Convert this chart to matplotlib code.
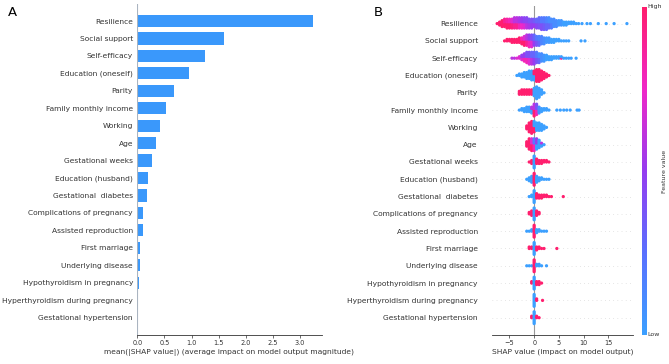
import matplotlib.pyplot as plt
import numpy as np
from matplotlib.colors import LinearSegmentedColormap

features = ['Resilience', 'Social support', 'Self-efficacy', 'Education (oneself)',
            'Parity', 'Family monthly income', 'Working', 'Age', 'Gestational weeks',
            'Education (husband)', 'Gestational  diabetes', 'Complications of pregnancy',
            'Assisted reproduction', 'First marriage', 'Underlying disease',
            'Hypothyroidism in pregnancy', 'Hyperthyroidism during pregnancy',
            'Gestational hypertension']

mean_abs_shap = [3.24, 1.59, 1.24, 0.96, 0.68, 0.535, 0.425, 0.35, 0.27, 0.20,
                 0.18, 0.11, 0.10, 0.055, 0.045, 0.025, 0.006, 0.004]

bar_ticks = [0.0, 0.5, 1.0, 1.5, 2.0, 2.5, 3.0]
swarm_ticks = [-5, 0, 5, 10, 15]

# beeswarm rows: (shap value, dots stacked there, feature value 0..1)
resilience = [(-7.5, 1, 1.0), (-7, 3, 1.0), (-6.5, 5, 1.0), (-6, 6, [1.0, 0.9]),
              (-5.5, 7, [1.0, 0.85]), (-5, 7, [1.0, 0.8]), (-4.5, 7, [0.95, 0.7]),
              (-4, 8, [0.9, 0.6]), (-3.5, 8, [0.9, 0.6]), (-3, 8, [0.8, 0.55]),
              (-2.5, 8, [0.75, 0.5]), (-2, 8, [0.7, 0.45]), (-1.5, 8, [0.6, 0.45]),
              (-1, 7, [0.55, 0.4]), (-0.5, 7, [0.5, 0.4]), (0, 6, [0.5, 0.35]),
              (0.5, 7, [0.45, 0.3]), (1, 8, [0.4, 0.3]), (1.5, 9, [0.4, 0.2]),
              (2, 9, [0.35, 0.2]), (2.5, 9, [0.3, 0.15]), (3, 8, [0.3, 0.1]),
              (3.5, 7, [0.2, 0.1]), (4, 6, 0.1), (4.5, 5, 0.1), (5, 4, 0.05),
              (5.5, 4, 0.05), (6, 3, 0.0), (6.5, 3, 0.0), (7, 2, 0.0), (7.5, 2, 0.0),
              (8, 2, 0.0), (8.5, 1, 0.0), (9, 1, 0.0), (9.7, 1, 0.0), (10.7, 1, 0.0),
              (11.4, 1, 0.0), (13.0, 1, 0.0), (14.6, 1, 0.0), (16.2, 1, 0.0),
              (18.8, 1, 0.0)]
social_support = [(-6, 1, 1.0), (-5.5, 2, 1.0), (-5, 2, 1.0), (-4.5, 3, 1.0), (-4, 3, 1.0),
                  (-3.5, 3, 1.0), (-3, 4, 1.0), (-2.5, 5, [1.0, 0.8]), (-2, 7, [1.0, 0.7]),
                  (-1.5, 8, [0.9, 0.6]), (-1, 9, [0.8, 0.5]), (-0.5, 9, [0.7, 0.4]),
                  (0, 8, [0.5, 0.3]), (0.5, 7, [0.4, 0.2]), (1, 7, [0.3, 0.15]),
                  (1.5, 6, 0.15), (2, 5, 0.1), (2.5, 4, 0.05), (3, 4, 0.05), (3.5, 3, 0.0),
                  (4, 3, 0.0), (4.5, 2, 0.0), (5, 2, 0.0), (5.5, 1, 0.0), (6, 1, 0.0),
                  (6.5, 1, 0.0), (7, 1, 0.0), (9.5, 1, 0.0), (10.3, 1, 0.0)]
self_efficacy = [(-4.5, 1, 0.6), (-4, 1, 0.6), (-3.5, 1, 0.7), (-3, 2, 0.7),
                 (-2.5, 4, [0.7, 0.5]), (-2, 6, [0.8, 0.5]), (-1.5, 8, [0.8, 0.4]),
                 (-1, 9, [0.7, 0.4]), (-0.5, 9, [0.6, 0.3]), (0, 9, [0.5, 0.3]),
                 (0.5, 8, [0.4, 0.2]), (1, 7, [0.3, 0.1]), (1.5, 6, 0.1), (2, 5, 0.05),
                 (2.5, 4, 0.0), (3, 3, 0.0), (3.5, 3, 0.0), (4, 2, 0.0), (4.5, 2, 0.0),
                 (5, 2, 0.0), (5.5, 2, [0.9, 0.0]), (6, 1, 0.0), (6.5, 1, 0.0), (7, 1, 0.0),
                 (7.5, 1, 0.0), (8.5, 1, 0.0)]
education_oneself = [(-3.5, 1, 0.0), (-3, 2, 0.0), (-2.5, 3, 0.0), (-2, 4, 0.0), (-1.5, 5, 0.0),
                     (-1, 6, 0.0), (-0.5, 7, 0.0), (0, 7, [0.0, 1.0]), (0.5, 9, 1.0),
                     (1, 9, 1.0), (1.5, 7, 1.0), (2, 5, 1.0), (2.5, 3, 1.0), (3, 1, 1.0)]
parity = [(-3, 3, 1.0), (-2.5, 4, 1.0), (-2, 4, 1.0), (-1.5, 4, 1.0), (-1, 4, 1.0),
          (-0.5, 4, 1.0), (0, 6, 0.0), (0.5, 9, 0.0), (1, 7, 0.0), (1.5, 4, 0.0), (2, 1, 0.0)]
family_income = [(-3, 1, 0.0), (-2.5, 2, 0.0), (-2, 3, 0.0), (-1.5, 4, 0.0), (-1, 4, 0.0),
                 (-0.5, 5, [0.0, 0.6]), (0, 9, [1.0, 0.6]), (0.5, 8, [0.8, 0.4]),
                 (1, 5, 0.1), (1.5, 3, 0.0), (2, 2, 0.0), (2.5, 2, 0.0), (3, 1, 0.0),
                 (4.6, 1, 0.0), (5.3, 1, 0.0), (6.0, 1, 0.0), (6.6, 1, 0.0), (7.3, 1, 0.0),
                 (8.7, 1, 0.0), (9.1, 1, 0.0)]
working = [(-1.5, 3, 1.0), (-1, 7, 1.0), (-0.5, 9, 1.0), (0, 8, [1.0, 0.0]), (0.5, 6, 0.0),
           (1, 6, 0.0), (1.5, 5, 0.0), (2, 3, 0.0), (2.5, 1, 0.0)]
age = [(-1.5, 4, 1.0), (-1, 8, 1.0), (-0.5, 9, [1.0, 0.7]), (0, 9, [0.8, 0.2]),
       (0.5, 8, [0.0, 0.5]), (1, 6, 0.0), (1.5, 3, [0.0, 0.6]), (2, 1, 0.0)]
gestational_weeks = [(-1, 1, 1.0), (-0.5, 3, 1.0), (0, 9, 0.0), (0.5, 4, 1.0), (1, 3, 1.0),
                     (1.5, 3, 1.0), (2, 2, 1.0), (2.5, 2, 1.0), (3, 1, 1.0)]
education_husband = [(-1.5, 1, 0.0), (-1, 3, 0.0), (-0.5, 5, 0.0), (0, 9, 1.0), (0.5, 5, 0.0),
                     (1, 3, 0.0), (1.5, 2, 0.0), (2, 1, 0.0), (2.5, 1, 0.0), (3, 1, 0.0)]
gestational_diabetes = [(-1, 1, 0.0), (-0.5, 2, 0.0), (0, 9, 0.0), (0.5, 4, 1.0), (1, 3, 1.0),
                        (1.5, 3, 1.0), (2, 2, 1.0), (2.5, 2, 1.0), (3, 1, 1.0), (3.5, 1, 1.0),
                        (5.9, 1, 1.0)]
complications = [(-1, 2, 1.0), (-0.5, 4, 1.0), (0, 9, 0.0), (0.5, 4, 1.0), (1, 2, 1.0)]
assisted_reproduction = [(-1.5, 1, 0.0), (-1, 1, 0.0), (-0.5, 2, 0.0), (0, 9, 1.0), (0.5, 3, 0.0),
                         (1, 2, 0.0), (1.5, 1, 0.0), (2, 1, 0.0), (2.5, 1, 0.0)]
first_marriage = [(-1, 2, 1.0), (-0.5, 2, 1.0), (0, 9, 0.0), (0.5, 3, 1.0), (1, 2, 1.0),
                  (1.5, 1, 1.0), (2, 1, 1.0), (4.6, 1, 1.0)]
underlying_disease = [(-1.5, 1, 0.0), (-1, 1, 0.0), (-0.5, 1, 0.0), (0, 9, 1.0), (0.5, 2, 0.0),
                      (1, 2, 0.0), (1.5, 1, 0.0), (2.5, 1, 0.0)]
hypothyroidism = [(-0.5, 2, 1.0), (0, 9, 0.0), (0.5, 3, 1.0), (1, 3, 1.0), (1.5, 1, 1.0)]
hyperthyroidism = [(0, 9, 0.0), (0.5, 2, 1.0), (1.7, 1, 1.0)]
gestational_hypertension = [(-0.5, 2, 1.0), (0, 9, 0.0), (0.5, 2, 1.0), (1, 1, 1.0)]

swarm_rows = [resilience, social_support, self_efficacy, education_oneself, parity,
              family_income, working, age, gestational_weeks, education_husband,
              gestational_diabetes, complications, assisted_reproduction, first_marriage,
              underlying_disease, hypothyroidism, hyperthyroidism, gestational_hypertension]

text_color = '#333333'
cmap = LinearSegmentedColormap.from_list(
    'shap_like', ['#3ca0ff', '#5a70ff', '#963cf0', '#f028c8', '#ff1e6e'])


def stackRow(row, step=0.085):
    """Turn (value, count, colour) bins into beeswarm dots."""
    xs, ys, cs = [], [], []
    for x, n, c in row:
        cols = c if isinstance(c, list) else [c]
        for k in range(n):
            layer = (k + 1) // 2
            sign = 1 if k % 2 else -1
            xs.append(x)
            ys.append(sign * layer * step)
            cs.append(cols[k % len(cols)])
    return np.array(xs), np.array(ys), np.array(cs)


def barPanel(ax):
    n = len(features)
    pos = np.arange(n)[::-1]
    ax.barh(pos, mean_abs_shap, height=0.7, color='#3a98fb', zorder=2)
    ax.axvline(0, color='#aab4c0', lw=0.8, zorder=3)
    ax.set_ylim(-1, n)
    ax.set_xlim(0, 3.4)
    ax.set_yticks(pos)
    ax.set_yticklabels(features, fontsize=5.4, color=text_color)
    ax.tick_params(axis='y', length=0, pad=3)
    ax.set_xticks(bar_ticks)
    ax.set_xticklabels(['%.1f' % t for t in bar_ticks], fontsize=4.7, color=text_color)
    ax.tick_params(axis='x', length=2, width=0.5, pad=1.5, color=text_color)
    for s in ['top', 'right', 'left']:
        ax.spines[s].set_visible(False)
    ax.spines['bottom'].set_color(text_color)
    ax.spines['bottom'].set_linewidth(0.6)
    ax.set_xlabel('mean(|SHAP value|) (average impact on model output magnitude)',
                  fontsize=5.4, color=text_color, labelpad=2)


def swarmPanel(ax):
    n = len(features)
    for i, row in enumerate(swarm_rows):
        y0 = n - 1 - i
        ax.axhline(y0, color='#cccccc', lw=0.5, dashes=(1, 5), zorder=-1)
        xs, ys, cs = stackRow(row)
        ax.scatter(xs, y0 + ys, c=cs, cmap=cmap, vmin=0, vmax=1, s=5.5,
                   linewidths=0, zorder=3)
    ax.axvline(0, color='#999999', lw=0.8, zorder=-1)
    ax.set_ylim(-1, n)
    ax.set_xlim(-8.6, 20.1)
    ax.set_yticks(np.arange(n)[::-1])
    ax.set_yticklabels(features, fontsize=5.4, color=text_color)
    ax.tick_params(axis='y', length=0, pad=10)
    ax.set_xticks(swarm_ticks)
    ax.set_xticklabels([str(t).replace('-', '\u2212') for t in swarm_ticks],
                       fontsize=4.7, color=text_color)
    ax.tick_params(axis='x', length=2, width=0.5, pad=1.5, color=text_color)
    for s in ['top', 'right', 'left']:
        ax.spines[s].set_visible(False)
    ax.spines['bottom'].set_color(text_color)
    ax.spines['bottom'].set_linewidth(0.6)
    ax.set_xlabel('SHAP value (impact on model output)', fontsize=5.4,
                  color=text_color, labelpad=2)


if __name__ == '__main__':
    fig = plt.figure(figsize=(6.69, 3.64), dpi=100)
    axA = fig.add_axes([0.2052, 0.0797, 0.2756, 0.9104])
    axB = fig.add_axes([0.735, 0.0797, 0.2117, 0.903])
    barPanel(axA)
    swarmPanel(axB)

    cax = fig.add_axes([0.9596, 0.0797, 0.006, 0.901])
    cax.imshow(np.linspace(0, 1, 256)[:, None], aspect='auto', cmap=cmap, origin='lower')
    cax.set_xticks([])
    cax.set_yticks([])
    for s in cax.spines.values():
        s.set_visible(False)
    fig.text(0.968, 0.981, 'High', fontsize=4.5, color=text_color, va='center')
    fig.text(0.968, 0.08, 'Low', fontsize=4.5, color=text_color, va='center')
    fig.text(0.993, 0.53, 'Feature value', fontsize=4.5, color=text_color,
             rotation=90, va='center', ha='center')

    fig.text(0.012, 0.965, 'A', fontsize=9.5, va='center')
    fig.text(0.558, 0.965, 'B', fontsize=9.5, va='center')
    fig.savefig('out.png', dpi=100)
